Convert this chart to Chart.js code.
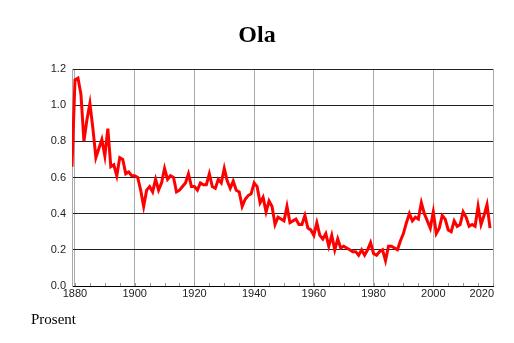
<!DOCTYPE html>
<html>
<head>
<meta charset="utf-8">
<script src="https://cdn.jsdelivr.net/npm/chart.js@4/dist/chart.umd.min.js"></script>
<style>
  body { margin: 0; background: #fff; }
  #wrap { width: 514px; height: 343px; }
</style>
</head>
<body>
<div id="wrap"><canvas id="chart" width="514" height="343"></canvas></div>
<script>
const firstYear = 1879;
const lastYear = 2020;
const values = [
    0.66, 1.14, 1.15, 1.06, 0.80, 0.92, 1.01, 0.87, 0.71, 0.76,
    0.81, 0.72, 0.87, 0.66, 0.67, 0.61, 0.71, 0.70, 0.62, 0.63,
    0.61, 0.61, 0.60, 0.53, 0.44, 0.53, 0.55, 0.52, 0.59, 0.53,
    0.57, 0.65, 0.59, 0.61, 0.60, 0.52, 0.53, 0.55, 0.57, 0.62,
    0.55, 0.55, 0.53, 0.57, 0.56, 0.56, 0.62, 0.55, 0.54, 0.59,
    0.57, 0.65, 0.58, 0.54, 0.58, 0.53, 0.52, 0.44, 0.48, 0.50,
    0.51, 0.57, 0.55, 0.46, 0.49, 0.41, 0.47, 0.44, 0.34, 0.38,
    0.37, 0.36, 0.44, 0.35, 0.36, 0.37, 0.34, 0.34, 0.39, 0.32,
    0.31, 0.28, 0.35, 0.28, 0.26, 0.29, 0.22, 0.28, 0.20, 0.26,
    0.21, 0.22, 0.21, 0.20, 0.19, 0.19, 0.17, 0.20, 0.17, 0.20,
    0.24, 0.18, 0.17, 0.19, 0.20, 0.14, 0.22, 0.22, 0.21, 0.20,
    0.25, 0.29, 0.35, 0.40, 0.36, 0.38, 0.37, 0.46, 0.40, 0.36,
    0.32, 0.41, 0.29, 0.32, 0.39, 0.37, 0.31, 0.30, 0.36, 0.33,
    0.34, 0.41, 0.38, 0.33, 0.34, 0.33, 0.44, 0.34, 0.39, 0.45,
    0.32
];
const years = values.map((v, i) => firstYear + i);
const xTicks = [1880, 1900, 1920, 1940, 1960, 1980, 2000, 2020];
const xMinorTicks = [];
for (let y = 1880; y <= lastYear; y += 5) xMinorTicks.push(y);

const title = "Ola";
const unitLabel = "Prosent";

// titles, x labels and the small 5-year ticks
const decorations = {
    id: "decorations",
    afterDraw(chart) {
        const ctx = chart.ctx;
        const x = chart.scales.x;
        const area = chart.chartArea;
        ctx.save();

        ctx.strokeStyle = "#999";
        ctx.lineWidth = 1;
        xMinorTicks.forEach((yr) => {
            const px = Math.round(x.getPixelForValue(yr)) + 0.5;
            ctx.beginPath();
            ctx.moveTo(px, area.bottom);
            ctx.lineTo(px, area.bottom - 3);
            ctx.stroke();
        });

        ctx.fillStyle = "#222";
        ctx.font = "11px 'Liberation Sans', Arial, sans-serif";
        ctx.textBaseline = "middle";
        xTicks.forEach((yr) => {
            const px = x.getPixelForValue(yr);
            const w = ctx.measureText(String(yr)).width;
            let left = px - w / 2;
            if (left + w > area.right + 1) left = area.right + 1 - w;
            ctx.textAlign = "left";
            ctx.fillText(String(yr), left, area.bottom + 8);
        });

        ctx.fillStyle = "#000";
        ctx.textAlign = "center";
        ctx.textBaseline = "alphabetic";
        ctx.font = "bold 24px 'Liberation Serif', 'Times New Roman', serif";
        ctx.fillText(title, 257, 42);

        ctx.textAlign = "left";
        ctx.font = "15px 'Liberation Serif', 'Times New Roman', serif";
        ctx.fillText(unitLabel, 31, 324);
        ctx.restore();
    }
};

const ctx = document.getElementById("chart").getContext("2d");
new Chart(ctx, {
    type: "line",
    data: {
        datasets: [{
            data: years.map((yr, i) => ({ x: yr, y: values[i] })),
            borderColor: "#ff0000",
            borderWidth: 3,
            pointRadius: 0,
            tension: 0,
            fill: false
        }]
    },
    options: {
        responsive: false,
        animation: false,
        layout: { padding: { top: 69, right: 21, left: 0, bottom: 0 } },
        plugins: {
            legend: { display: false },
            tooltip: { enabled: false }
        },
        scales: {
            x: {
                type: "linear",
                min: firstYear,
                max: lastYear,
                afterBuildTicks: (scale) => {
                    scale.ticks = xTicks.map((v) => ({ value: v }));
                },
                afterFit: (scale) => { scale.height = 57; },
                ticks: { display: false },
                grid: { color: "#aaa", lineWidth: 1, drawTicks: false },
                border: { color: "#000", width: 1 }
            },
            y: {
                min: 0,
                max: 1.2,
                afterFit: (scale) => { scale.width = 72; },
                ticks: {
                    stepSize: 0.2,
                    padding: 6,
                    color: "#222",
                    font: { family: "'Liberation Sans', Arial, sans-serif", size: 11 },
                    callback: (v) => v.toFixed(1)
                },
                grid: { color: "#222", lineWidth: 1, drawTicks: false },
                border: { color: "#aaa", width: 1 }
            }
        }
    },
    plugins: [decorations]
});
</script>
</body>
</html>
